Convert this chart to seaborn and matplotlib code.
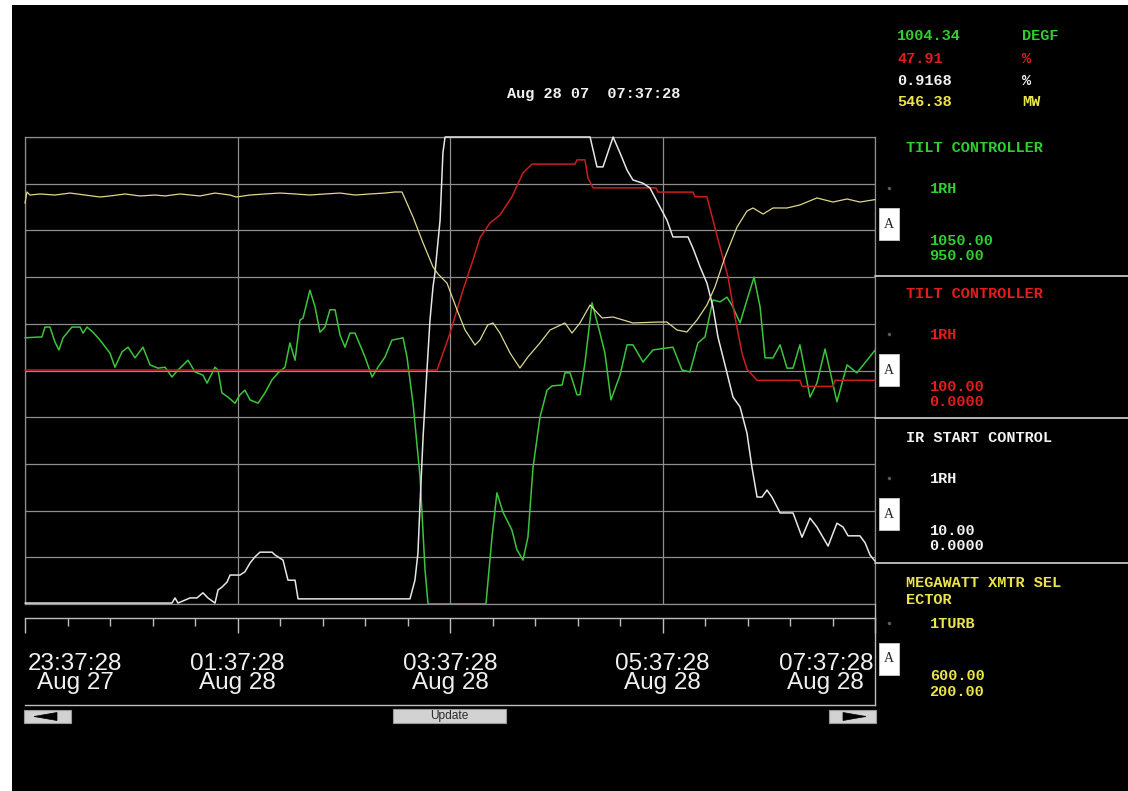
import matplotlib
matplotlib.use("Agg")
import matplotlib.pyplot as plt
import matplotlib.transforms as mtransforms
from matplotlib.patches import Rectangle, Polygon
from matplotlib.lines import Line2D
import numpy as np
import pandas as pd
import seaborn as sns

# ---------------------------------------------------------------------------
# Trend data, time in minutes after 23:37:28 Aug 27 (8 hour window)
# ---------------------------------------------------------------------------
# 1RH reheat temperature, DEGF
temp_t = [0, 9.6, 11.3, 14.1, 16.9, 19.2, 21.5, 26.5, 31.1, 32.8, 35.0, 38.4,
          42.4, 48.0, 50.8, 54.8, 58.2, 62.1, 66.6, 70.6, 75.1, 79.1, 83.0,
          86.4, 92.0, 96.0, 100.5, 102.8, 107.3, 109.0, 111.2, 114.6, 118.6,
          121.4, 124.2, 127.1, 131.6, 135.5, 139.5, 142.9, 146.8, 149.6, 152.5,
          155.3, 157.0, 160.9, 163.8, 166.6, 169.4, 172.2, 175.1, 177.9, 180.7,
          183.5, 186.4, 192.0, 196.0, 199.3, 203.3, 207.2, 213.5, 215.7, 219.1,
          223.1, 225.9, 227.6, 260.3, 263.7, 266.5, 269.9, 275.0, 277.8, 281.2,
          284.0, 286.9, 290.8, 294.8, 297.6, 303.3, 304.9, 307.8, 311.7, 313.4,
          316.2, 320.2, 324.7, 327.5, 330.9, 336.0, 340.0, 343.3, 349.0, 354.6,
          365.9, 371.0, 375.5, 380.0, 384.0, 388.5, 392.5, 396.4, 399.2, 403.8,
          407.7, 411.7, 415.1, 417.9, 422.4, 426.4, 430.3, 433.7, 437.6, 443.3,
          447.2, 451.8, 458.5, 464.2, 469.8, 480.0]
temp_v = [1007.0, 1007.2, 1009.3, 1009.3, 1006.1, 1004.4, 1007.0, 1009.3,
          1009.3, 1008.0, 1009.3, 1008.2, 1006.5, 1003.7, 1000.7, 1004.0,
          1005.0, 1002.7, 1005.0, 1001.2, 1000.5, 1000.7, 998.6, 1000.1,
          1002.2, 999.7, 999.0, 997.3, 1000.7, 1000.1, 995.2, 994.3, 993.0,
          994.8, 995.8, 993.7, 993.0, 995.2, 998.0, 999.5, 1000.7, 1005.9,
          1002.2, 1010.8, 1011.2, 1017.2, 1013.6, 1008.2, 1009.3, 1013.0,
          1013.0, 1007.6, 1005.0, 1008.0, 1008.0, 1002.9, 998.6, 1000.7,
          1002.9, 1006.5, 1007.0, 1002.9, 993.0, 977.2, 957.3, 950.0, 950.0,
          964.3, 973.8, 969.7, 965.8, 961.6, 959.4, 964.3, 979.3, 990.0, 995.8,
          996.7, 996.9, 999.5, 999.5, 994.8, 994.8, 1001.6, 1014.5, 1008.0,
          1003.7, 993.7, 999.0, 1005.5, 1005.5, 1001.8, 1004.4, 1005.0, 1000.1,
          999.7, 1005.9, 1007.2, 1015.1, 1014.7, 1015.7, 1014.0, 1010.2,
          1015.1, 1020.0, 1013.6, 1002.7, 1002.7, 1005.5, 1000.5, 1000.5,
          1005.5, 994.3, 997.3, 1004.6, 993.3, 1001.2, 999.5, 1004.34]

# 1RH tilt controller output, %
tilt_t = [0, 232.7, 240.0, 247.3, 253.0, 256.9, 262.6, 268.2, 275.0, 281.2,
          286.3, 310.6, 311.7, 316.2, 317.9, 320.8, 356.3, 357.5, 377.2, 378.4,
          385.1, 388.5, 392.5, 397.0, 400.9, 404.9, 407.7, 413.4, 437.6, 438.8,
          456.3, 457.4, 480.0]
tilt_v = [50.1, 50.1, 58.0, 67.2, 73.7, 78.4, 81.6, 83.3, 87.2, 92.3, 94.2,
          94.2, 95.1, 95.1, 91.2, 89.1, 89.1, 88.2, 88.2, 87.2, 87.2, 82.2,
          76.4, 70.0, 61.5, 53.7, 50.3, 47.9, 47.9, 46.6, 46.6, 47.9, 47.91]

# 1RH IR start control, %
irs_t = [0, 83.0, 84.7, 86.4, 93.2, 97.1, 100.5, 103.3, 107.3, 109.0, 111.2,
         114.1, 115.8, 121.4, 124.2, 127.1, 129.9, 132.7, 139.5, 141.2, 145.7,
         148.5, 152.5, 154.2, 217.4, 220.2, 221.9, 223.1, 224.8, 227.0, 228.7,
         230.4, 231.5, 234.4, 236.0, 237.2, 319.1, 323.0, 326.4, 332.1, 336.0,
         340.0, 343.3, 349.0, 352.9, 358.6, 362.5, 365.9, 374.4, 377.2, 381.2,
         385.1, 388.5, 391.3, 396.4, 399.8, 403.8, 407.7, 410.5, 413.4, 416.2,
         419.0, 421.8, 426.4, 433.7, 438.8, 443.3, 447.2, 453.5, 458.5, 461.9,
         464.8, 471.5, 474.4, 477.2, 480.0]
irs_v = [0.02, 0.02, 0.13, 0.02, 0.13, 0.13, 0.24, 0.13, 0.02, 0.30, 0.36,
         0.47, 0.62, 0.62, 0.69, 0.88, 1.01, 1.11, 1.11, 1.05, 0.94, 0.51,
         0.51, 0.11, 0.11, 0.51, 1.09, 2.16, 3.58, 5.01, 6.08, 6.79, 7.09,
         8.22, 9.66, 10.0, 10.0, 9.36, 9.36, 10.0, 9.66, 9.29, 9.08, 9.01,
         8.91, 8.50, 8.22, 7.86, 7.86, 7.62, 7.22, 6.87, 6.36, 5.72, 4.95,
         4.43, 4.22, 3.66, 2.93, 2.29, 2.29, 2.44, 2.29, 1.95, 1.95, 1.43,
         1.84, 1.65, 1.24, 1.73, 1.65, 1.46, 1.46, 1.31, 1.05, 0.9168]

# Unit 1 turbine megawatts
mw_t = [0, 1.1, 2.8, 8.5, 16.9, 25.4, 33.9, 42.4, 48.0, 56.5, 64.9, 73.4,
        79.1, 87.5, 98.8, 107.3, 115.8, 119.2, 127.1, 135.5, 144.0, 152.5,
        160.9, 169.4, 177.9, 186.4, 194.8, 203.3, 208.9, 212.9, 219.1, 224.8,
        230.4, 233.2, 238.3, 244.0, 248.5, 254.1, 256.9, 261.3, 264.3, 268.2,
        273.9, 279.5, 284.0, 290.8, 296.5, 304.9, 308.9, 313.4, 319.1, 325.9,
        332.1, 343.4, 356.9, 362.5, 368.2, 373.8, 379.5, 385.1, 389.6, 395.3,
        402.1, 407.7, 411.1, 416.8, 422.4, 430.3, 437.6, 447.2, 456.3, 464.2,
        471.5, 480.0]
mw_v = [543.3, 552.9, 550.3, 551.2, 550.3, 552.0, 550.3, 548.6, 549.5, 551.2,
        549.5, 550.3, 549.5, 551.2, 549.5, 552.0, 550.3, 548.6, 550.3, 551.2,
        552.0, 551.2, 550.3, 551.2, 552.0, 550.3, 551.2, 552.0, 552.9, 552.9,
        531.5, 509.2, 488.7, 482.7, 474.9, 451.8, 434.7, 421.8, 426.1, 439.0,
        440.7, 432.1, 415.0, 402.1, 411.6, 423.6, 434.7, 440.7, 432.1, 440.7,
        456.1, 445.0, 445.8, 440.7, 441.5, 441.5, 434.7, 433.0, 443.3, 456.1,
        471.5, 497.2, 522.9, 536.6, 539.2, 534.0, 539.2, 539.2, 541.8, 547.8,
        544.3, 546.9, 544.3, 546.38]

# Pen legend / scale information
pen_titles = ["TILT CONTROLLER", "TILT CONTROLLER", "IR START CONTROL",
              "MEGAWATT XMTR SEL\nECTOR"]
pen_tags = ["1RH", "1RH", "1RH", "1TURB"]
pen_hi = ["1050.00", "100.00", "10.00", "600.00"]
pen_lo = ["950.00", "0.0000", "0.0000", "200.00"]
readout_values = ["1004.34", "47.91", "0.9168", "546.38"]
readout_units = ["DEGF", "%", "%", "MW"]

# Time ruler labels
tick_minutes = [0, 120, 240, 360, 480]
tick_labels = ["23:37:28\nAug 27", "01:37:28\nAug 28", "03:37:28\nAug 28",
               "05:37:28\nAug 28", "07:37:28\nAug 28"]
header_text = "Aug 28 07  07:37:28"

# ---------------------------------------------------------------------------
W, H = 1128, 791
text_colors = ["#2fcf2f", "#e21d1d", "#f2f2f2", "#ece44c"]
line_colors = ["#3cc43c", "#c81e1e", "#e6e6e6", "#ddd88e"]
line_widths = [1.1, 1.1, 1.1, 0.9]
grid_col = "#8e8e8e"
mono = dict(family="Liberation Mono", weight="bold", size=11)

sns.set_style("dark")
plt.rcParams["font.family"] = ["Liberation Sans", "DejaVu Sans"]

fig = plt.figure(figsize=(W / 100, H / 100), dpi=100, facecolor="white")


def fx(px):
    return px / W


def fy(py):
    return 1 - py / H


def ptext(x, y, s, **kw):
    fig.text(fx(x), fy(y), s, **kw)


# screen background
fig.add_artist(Rectangle((fx(12), 0), 1 - fx(12), fy(5),
                         transform=fig.transFigure, facecolor="black",
                         edgecolor="none", zorder=-10))

# ---- main trend area -------------------------------------------------------
ax = fig.add_axes([fx(25), fy(604), 850 / W, 467 / H])
ax.set_facecolor("black")
ax.patch.set_zorder(0)

series = [
    (temp_t, temp_v),
    (tilt_t, tilt_v),
    (irs_t, irs_v),
    (mw_t, mw_v),
]
axes = [ax] + [ax.twinx() for _ in range(3)]
for i, (a, (t, v)) in enumerate(zip(axes, series)):
    lo, hi = float(pen_lo[i]), float(pen_hi[i])
    df = pd.DataFrame({"minute": t, "value": v})
    sns.lineplot(data=df, x="minute", y="value", ax=a, color=line_colors[i],
                 lw=line_widths[i], estimator=None, sort=False, clip_on=False)
    a.set_xlim(0, 480)
    a.set_ylim(lo, hi)
    a.set_xlabel("")
    a.set_ylabel("")
    if i > 0:
        a.axis("off")

ax.set_xticks(tick_minutes)
ax.set_yticks(np.linspace(950, 1050, 11))
ax.grid(True, color=grid_col, lw=0.9)
ax.tick_params(length=0, labelleft=False, labelbottom=False)
for sp in ax.spines.values():
    sp.set_color(grid_col)
    sp.set_linewidth(0.9)

# ---- time ruler ------------------------------------------------------------
rax = fig.add_axes([fx(25), fy(705), 850 / W, 87 / H])
rax.set_facecolor("none")
rax.set_xlim(0, 480)
rax.set_ylim(0, 1)
rax.set_yticks([])
rax.spines["left"].set_visible(False)
for s in ("top", "bottom", "right"):
    rax.spines[s].set_color("#bdbdbd")
    rax.spines[s].set_linewidth(1.0)
rax.xaxis.set_ticks_position("top")
rax.set_xticks(tick_minutes)
rax.set_xticks(np.arange(0, 481, 24), minor=True)
rax.tick_params(axis="x", which="major", direction="in", length=10.8,
                width=1.0, color="#bdbdbd", labeltop=False, labelbottom=False)
rax.tick_params(axis="x", which="minor", direction="in", length=5.8,
                width=1.0, color="#bdbdbd")
rax.grid(False)

blend = mtransforms.blended_transform_factory(rax.transData, fig.transFigure)
for k, (m, lab) in enumerate(zip(tick_minutes, tick_labels)):
    if k == 0:
        ha, dx = "left", 3
    elif k == len(tick_minutes) - 1:
        ha, dx = "right", -2
    else:
        ha, dx = "center", 0
    rax.annotate(lab, xy=(m, fy(652.5)), xycoords=blend,
                 xytext=(dx, 0), textcoords="offset pixels",
                 ha=ha, va="top", multialignment="center",
                 linespacing=0.86, fontsize=17.5, color="#f0f0f0",
                 family=["Liberation Sans", "DejaVu Sans"],
                 annotation_clip=False)

# right frame line across the gap between trend and ruler
fig.add_artist(Line2D([fx(875), fx(875)], [fy(604), fy(618)],
                      transform=fig.transFigure, color="#bdbdbd", lw=1.0))

# ---- buttons ---------------------------------------------------------------
def button(x0, x1, y0, y1):
    fig.add_artist(Rectangle((fx(x0), fy(y1)), fx(x1) - fx(x0),
                             fy(y0) - fy(y1), transform=fig.transFigure,
                             facecolor="#d2d2d2", edgecolor="#9a9a9a",
                             lw=0.8))


button(24, 71, 710, 723)
button(393, 506, 709, 723)
button(829, 876, 710, 723)
fig.add_artist(Polygon([(fx(34), fy(716.5)), (fx(57), fy(712.5)),
                        (fx(57), fy(720.5))], closed=True,
                       transform=fig.transFigure, facecolor="black",
                       edgecolor="black", lw=0.5))
fig.add_artist(Polygon([(fx(866), fy(716.5)), (fx(843), fy(712.5)),
                        (fx(843), fy(720.5))], closed=True,
                       transform=fig.transFigure, facecolor="black",
                       edgecolor="black", lw=0.5))
ptext(449, 716, "Update", ha="center", va="center", fontsize=8.6,
      color="#2a2a2a", family=["Liberation Sans", "DejaVu Sans"])

# ---- header ----------------------------------------------------------------
ptext(507, 98, header_text, ha="left", va="baseline", color="#f2f2f2", **mono)

# ---- live readouts ---------------------------------------------------------
for i, (val, unit) in enumerate(zip(readout_values, readout_units)):
    yb = [40, 63, 85, 106][i]
    ptext(897, yb, val, ha="left", va="baseline", color=text_colors[i], **mono)
    ptext(1022, yb, unit, ha="left", va="baseline", color=text_colors[i],
          **mono)

# ---- pen legend panel ------------------------------------------------------
title_y = [147, 293, 437, 582]
for i in range(4):
    col = text_colors[i]
    ty = title_y[i]
    for j, line in enumerate(pen_titles[i].split("\n")):
        ptext(906, ty + 5 + 17 * j, line, ha="left", va="baseline",
              color=col, **mono)
    ptext(930, ty + 46, pen_tags[i], ha="left", va="baseline", color=col,
          **mono)
    ptext(930, ty + 98, pen_hi[i], ha="left", va="baseline", color=col,
          **mono)
    ptext(929, ty + 113.5, pen_lo[i], ha="left", va="baseline", color=col,
          **mono)
    # auto-scale marker box
    fig.add_artist(Rectangle((fx(879), fy(ty + 93)), 20 / W, 32 / H,
                             transform=fig.transFigure, facecolor="white",
                             edgecolor="#cfcfcf", lw=0.6))
    ptext(889, ty + 77, "A", ha="center", va="center", fontsize=10,
          color="#222222", family=["Liberation Serif", "DejaVu Serif"])
    fig.add_artist(Line2D([fx(889)], [fy(ty + 41)], marker="o", ms=1.5,
                          color="#5a5a5a", transform=fig.transFigure))

# panel separators
for y in (276, 418, 563):
    fig.add_artist(Line2D([fx(875), 1.0], [fy(y), fy(y)],
                          transform=fig.transFigure, color="#d4d4d4",
                          lw=1.2))

fig.savefig("out.png", dpi=100, facecolor=fig.get_facecolor())
